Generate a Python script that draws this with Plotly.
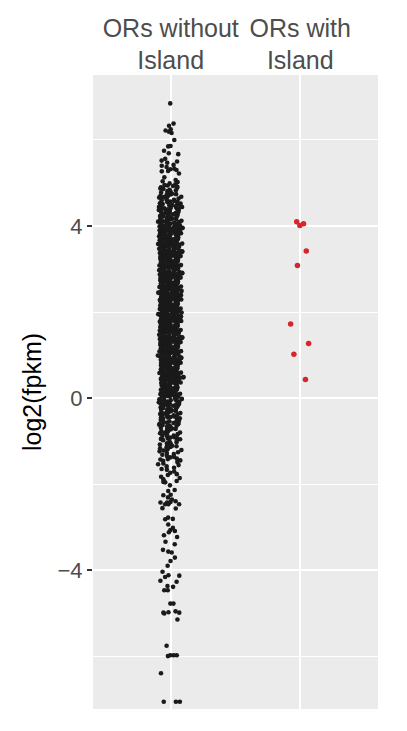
import plotly.graph_objects as go

# ---------------- data ----------------
categories = ["ORs without<br>Island", "ORs with<br>Island"]
y_tick_vals = [-4, 0, 4]
y_tick_text = ["\u22124", "0", "4"]
y_minor_vals = [-6, -2, 2, 6]

without_top = [6.85, 6.38, 6.33, 6.25, 6.22, 6.19, 6.16, 6.00, 5.86, 5.85, 5.75, 5.69, 5.67, 5.56,
               5.52, 5.50, 5.47, 5.42, 5.40, 5.37, 5.33, 5.32, 5.30, 5.28, 5.27, 5.22, 5.13, 5.07]
without_45_51 = [5.04, 4.62, 4.91, 4.53, 4.78, 4.97, 4.66, 4.84, 4.57, 4.72,
                 4.99, 4.60, 4.87, 4.51, 4.75, 4.93, 4.68, 4.81, 4.55, 4.70,
                 5.02, 4.64, 4.89, 4.58, 4.77, 4.95, 4.69, 4.83, 4.52, 4.73,
                 4.86, 4.61, 4.94, 4.56, 4.79, 4.50, 4.67, 4.90, 4.59, 4.74]
without_40_45 = [4.03, 4.47, 4.12, 4.28, 4.06, 4.39, 4.17, 4.44, 4.21, 4.09,
                 4.35, 4.49, 4.14, 4.26, 4.01, 4.41, 4.19, 4.33, 4.08, 4.46,
                 4.24, 4.15, 4.37, 4.05, 4.30, 4.43, 4.11, 4.22, 4.38, 4.07,
                 4.48, 4.18, 4.32, 4.04, 4.27, 4.45, 4.13, 4.40, 4.23, 4.10,
                 4.36, 4.02, 4.16, 4.29, 4.00, 4.42, 4.20, 4.34, 4.08, 4.25,
                 4.46, 4.12, 4.31, 4.05, 4.39, 4.17, 4.44, 4.22, 4.09, 4.37]
without_35_40 = [3.52, 3.97, 3.61, 3.78, 3.55, 3.88, 3.66, 3.93, 3.71, 3.58,
                 3.84, 3.99, 3.63, 3.75, 3.51, 3.90, 3.69, 3.82, 3.57, 3.95,
                 3.73, 3.64, 3.86, 3.54, 3.79, 3.92, 3.60, 3.70, 3.87, 3.56,
                 3.98, 3.67, 3.81, 3.53, 3.76, 3.94, 3.62, 3.89, 3.72, 3.59,
                 3.85, 3.96, 3.65, 3.77, 3.50, 3.91, 3.68, 3.83, 3.57, 3.74,
                 3.97, 3.61, 3.80, 3.54, 3.88, 3.66, 3.93, 3.71, 3.58, 3.86,
                 3.63, 3.79, 3.52, 3.95, 3.69, 3.84, 3.60, 3.75, 3.90, 3.56,
                 3.82, 3.67, 3.98, 3.73, 3.55, 3.87, 3.64, 3.78, 3.92, 3.59]
without_30_35 = [3.03, 3.47, 3.12, 3.28, 3.06, 3.39, 3.17, 3.44, 3.21, 3.09,
                 3.35, 3.49, 3.14, 3.26, 3.01, 3.41, 3.19, 3.33, 3.08, 3.46,
                 3.24, 3.15, 3.37, 3.05, 3.30, 3.43, 3.11, 3.22, 3.38, 3.07,
                 3.48, 3.18, 3.32, 3.04, 3.27, 3.45, 3.13, 3.40, 3.23, 3.10,
                 3.36, 3.47, 3.16, 3.29, 3.00, 3.42, 3.20, 3.34, 3.08, 3.25,
                 3.46, 3.12, 3.31, 3.05, 3.39, 3.17, 3.44, 3.22, 3.09, 3.37,
                 3.14, 3.30, 3.03, 3.48, 3.20, 3.35, 3.11, 3.26, 3.41, 3.07,
                 3.33, 3.18, 3.49, 3.24, 3.06, 3.38, 3.15, 3.29, 3.43, 3.10,
                 3.27, 3.02, 3.36, 3.19, 3.45, 3.13, 3.31, 3.04, 3.40, 3.23]
without_25_30 = [2.53, 2.97, 2.62, 2.78, 2.56, 2.89, 2.67, 2.94, 2.71, 2.59,
                 2.85, 2.99, 2.64, 2.76, 2.51, 2.91, 2.69, 2.83, 2.58, 2.96,
                 2.74, 2.65, 2.87, 2.55, 2.80, 2.93, 2.61, 2.72, 2.88, 2.57,
                 2.98, 2.68, 2.82, 2.54, 2.77, 2.95, 2.63, 2.90, 2.73, 2.60,
                 2.86, 2.97, 2.66, 2.79, 2.50, 2.92, 2.70, 2.84, 2.58, 2.75,
                 2.96, 2.62, 2.81, 2.55, 2.89, 2.67, 2.94, 2.72, 2.59, 2.87,
                 2.64, 2.80, 2.53, 2.98, 2.70, 2.85, 2.61, 2.76, 2.91, 2.57,
                 2.83, 2.68, 2.99, 2.74, 2.56, 2.88, 2.65, 2.79, 2.93, 2.60,
                 2.77, 2.52, 2.86, 2.69, 2.95, 2.63, 2.81, 2.54, 2.90, 2.73]
without_20_25 = [2.04, 2.46, 2.13, 2.29, 2.07, 2.38, 2.16, 2.43, 2.22, 2.10,
                 2.34, 2.48, 2.15, 2.27, 2.02, 2.42, 2.18, 2.32, 2.09, 2.45,
                 2.25, 2.14, 2.36, 2.06, 2.31, 2.44, 2.12, 2.21, 2.39, 2.08,
                 2.47, 2.19, 2.33, 2.03, 2.28, 2.46, 2.11, 2.41, 2.24, 2.05,
                 2.37, 2.49, 2.17, 2.30, 2.01, 2.43, 2.20, 2.35, 2.07, 2.26,
                 2.45, 2.13, 2.32, 2.04, 2.40, 2.16, 2.44, 2.23, 2.10, 2.38,
                 2.15, 2.29, 2.02, 2.47, 2.21, 2.34, 2.12, 2.27, 2.42, 2.08,
                 2.33, 2.19, 2.48, 2.25, 2.05, 2.39, 2.14, 2.30, 2.44, 2.11,
                 2.26, 2.03, 2.37, 2.18, 2.46, 2.12, 2.31, 2.06, 2.41, 2.22,
                 2.00, 2.35, 2.17, 2.28, 2.49]
without_15_20 = [1.53, 1.96, 1.62, 1.79, 1.57, 1.88, 1.66, 1.93, 1.72, 1.60,
                 1.84, 1.98, 1.65, 1.77, 1.52, 1.92, 1.68, 1.82, 1.59, 1.95,
                 1.75, 1.64, 1.86, 1.56, 1.81, 1.94, 1.61, 1.71, 1.89, 1.58,
                 1.97, 1.69, 1.83, 1.54, 1.78, 1.96, 1.63, 1.91, 1.74, 1.55,
                 1.87, 1.99, 1.67, 1.80, 1.51, 1.93, 1.70, 1.85, 1.57, 1.76,
                 1.95, 1.63, 1.82, 1.54, 1.90, 1.66, 1.94, 1.73, 1.60, 1.88,
                 1.65, 1.79, 1.52, 1.97, 1.71, 1.84, 1.62, 1.77, 1.92, 1.58,
                 1.83, 1.69, 1.98, 1.75, 1.55, 1.89, 1.64, 1.80, 1.94, 1.61,
                 1.76, 1.53, 1.87, 1.68, 1.96, 1.62, 1.81, 1.56, 1.91, 1.72,
                 1.50, 1.85, 1.67, 1.78, 1.99]
without_10_15 = [1.04, 1.47, 1.13, 1.28, 1.06, 1.39, 1.17, 1.44, 1.21, 1.09,
                 1.35, 1.49, 1.14, 1.26, 1.01, 1.41, 1.19, 1.33, 1.08, 1.46,
                 1.24, 1.15, 1.37, 1.05, 1.30, 1.43, 1.11, 1.22, 1.38, 1.07,
                 1.48, 1.18, 1.32, 1.04, 1.27, 1.45, 1.13, 1.40, 1.23, 1.10,
                 1.36, 1.47, 1.16, 1.29, 1.00, 1.42, 1.20, 1.34, 1.08, 1.25,
                 1.46, 1.12, 1.31, 1.05, 1.39, 1.17, 1.44, 1.22, 1.09, 1.37,
                 1.14, 1.30, 1.03, 1.48, 1.20, 1.35, 1.11, 1.26, 1.41, 1.07,
                 1.33, 1.18, 1.49, 1.24, 1.06, 1.38, 1.15, 1.29, 1.43, 1.10,
                 1.27, 1.02, 1.36, 1.19, 1.45, 1.13, 1.31, 1.04, 1.40, 1.23]
without_05_10 = [0.53, 0.97, 0.62, 0.78, 0.56, 0.89, 0.67, 0.94, 0.71, 0.59,
                 0.85, 0.99, 0.64, 0.76, 0.51, 0.91, 0.69, 0.83, 0.58, 0.96,
                 0.74, 0.65, 0.87, 0.55, 0.80, 0.93, 0.61, 0.72, 0.88, 0.57,
                 0.98, 0.68, 0.82, 0.54, 0.77, 0.95, 0.63, 0.90, 0.73, 0.60,
                 0.86, 0.97, 0.66, 0.79, 0.50, 0.92, 0.70, 0.84, 0.58, 0.75,
                 0.96, 0.62, 0.81, 0.55, 0.89, 0.67, 0.94, 0.72, 0.59, 0.87,
                 0.64, 0.80, 0.53, 0.98, 0.70, 0.85, 0.61, 0.76, 0.91, 0.57,
                 0.83, 0.68, 0.99, 0.74, 0.56, 0.88, 0.65, 0.79, 0.93, 0.60,
                 0.77, 0.52, 0.86, 0.69, 0.95]
without_00_05 = [0.04, 0.47, 0.13, 0.28, 0.06, 0.39, 0.17, 0.44, 0.21, 0.09,
                 0.35, 0.49, 0.14, 0.26, 0.01, 0.41, 0.19, 0.33, 0.08, 0.46,
                 0.24, 0.15, 0.37, 0.05, 0.30, 0.43, 0.11, 0.22, 0.38, 0.07,
                 0.48, 0.18, 0.32, 0.03, 0.27, 0.45, 0.12, 0.40, 0.23, 0.10,
                 0.36, 0.47, 0.16, 0.29, 0.02, 0.42, 0.20, 0.34, 0.08, 0.25,
                 0.46, 0.12, 0.31, 0.05, 0.39, 0.17, 0.44, 0.22, 0.09, 0.37,
                 0.14, 0.30, 0.03, 0.48, 0.20, 0.35, 0.11, 0.26, 0.41, 0.07,
                 0.33, 0.18, 0.49, 0.24, 0.06]
without_m05_00 = [-0.03, -0.46, -0.12, -0.27, -0.06, -0.38, -0.16, -0.43, -0.21, -0.09,
                  -0.34, -0.48, -0.14, -0.25, -0.01, -0.41, -0.19, -0.32, -0.08, -0.45,
                  -0.23, -0.15, -0.36, -0.05, -0.29, -0.42, -0.11, -0.22, -0.37, -0.07,
                  -0.47, -0.18, -0.31, -0.04, -0.26, -0.44, -0.13, -0.39, -0.24, -0.10,
                  -0.35, -0.49, -0.17, -0.28, -0.02, -0.40, -0.20, -0.33, -0.08, -0.30,
                  -0.45, -0.12, -0.27, -0.06, -0.15]
without_m10_m05 = [-0.53, -0.96, -0.62, -0.78, -0.57, -0.88, -0.66, -0.93, -0.71, -0.59,
                   -0.84, -0.98, -0.64, -0.75, -0.51, -0.91, -0.69, -0.82, -0.58, -0.95,
                   -0.73, -0.65, -0.86, -0.55, -0.80, -0.92, -0.61, -0.72, -0.87, -0.56,
                   -0.99, -0.68, -0.81, -0.54, -0.77, -0.94, -0.63, -0.89, -0.70, -0.60]
without_m15_m10 = [-1.03, -1.46, -1.12, -1.28, -1.06, -1.38, -1.17, -1.43, -1.21, -1.09,
                   -1.35, -1.49, -1.14, -1.26, -1.01, -1.41, -1.19, -1.32, -1.08, -1.45,
                   -1.24, -1.15, -1.37, -1.05, -1.30, -1.42, -1.11, -1.22]
without_m20_m15 = [-1.52, -1.56, -1.59, -1.62, -1.65, -1.67, -1.71, -1.74, -1.79, -1.83,
                   -1.86, -1.89, -1.93, -1.54, -1.77]
without_m35_m20 = [-1.95, -2.03, -1.96, -2.14, -2.16, -2.25, -2.31, -2.26, -2.42, -2.40,
                   -2.47, -2.47, -2.47, -2.43, -2.36, -2.43, -2.57, -2.56, -2.78, -2.81,
                   -2.82, -2.94, -3.02, -3.07, -3.12, -3.09, -3.19, -3.23, -3.34, -3.40]
without_m52_m35 = [-3.59, -3.53, -3.57, -3.71, -3.79, -3.90, -4.04, -4.13, -4.16, -4.12,
                   -4.27, -4.25, -4.39, -4.37, -4.47, -4.47, -4.78, -4.78, -4.98, -4.96,
                   -4.99, -4.99, -5.01, -5.15]
without_bottom = [-5.76, -5.98, -5.98, -6.00, -5.98, -6.40, -7.06, -7.06, -7.06]

with_island = [4.01, 4.05, 4.10, 3.42, 3.08, 1.72, 1.27, 1.02, 0.43]

without_island_bands = [without_top, without_45_51, without_40_45, without_35_40, without_30_35,
                        without_25_30, without_20_25, without_15_20, without_10_15,
                        without_05_10, without_00_05, without_m05_00, without_m10_m05,
                        without_m15_m10, without_m20_m15, without_m35_m20, without_m52_m35,
                        without_bottom]

# ---------------- figure ----------------
FONT = "Liberation Sans, Arial, sans-serif"
fig = go.Figure()


def strip(pos, values, color, size, jitter):
    return go.Box(
        x=[pos] * len(values), y=values,
        boxpoints="all", jitter=jitter, pointpos=0, width=0.2,
        fillcolor="rgba(0,0,0,0)", line=dict(width=0, color="rgba(0,0,0,0)"),
        whiskerwidth=0,
        marker=dict(color=color, size=size, line=dict(width=0)),
        showlegend=False, hoveron="points",
    )


for band in without_island_bands:
    fig.add_trace(strip(1, band, "#1a1a1a", 4.6, 1.0))
fig.add_trace(strip(2, with_island, "#D7262B", 5.5, 0.9))

# page body has an 8px default margin; figure sized to fit the window exactly
fig.update_layout(
    width=391, height=715,
    margin=dict(l=85, r=21, t=67, b=14),
    paper_bgcolor="white", plot_bgcolor="#EBEBEB",
    boxmode="overlay",
    font=dict(family=FONT, color="#4D4D4D"),
    xaxis=dict(
        range=[0.4, 2.6], tickvals=[1, 2], ticktext=categories, side="top",
        showgrid=True, gridcolor="white", gridwidth=2, zeroline=False, automargin=False,
        showline=False, ticks="", tickfont=dict(size=25, color="#4D4D4D"),
    ),
    yaxis=dict(
        range=[-7.23, 7.51], tickvals=y_tick_vals, ticktext=y_tick_text, automargin=False,
        showgrid=True, gridcolor="white", gridwidth=2, zeroline=False,
        showline=False, ticks="outside", ticklen=5, tickwidth=1.5, tickcolor="#333333",
        tickfont=dict(size=22, color="#4D4D4D"),
        minor=dict(tickvals=y_minor_vals, showgrid=True, gridcolor="white", gridwidth=1, ticks=""),
        title=dict(text="log2(fpkm)", font=dict(size=25, color="black"), standoff=8),
    ),
)

fig.write_html("out.html", config={"displayModeBar": False})
